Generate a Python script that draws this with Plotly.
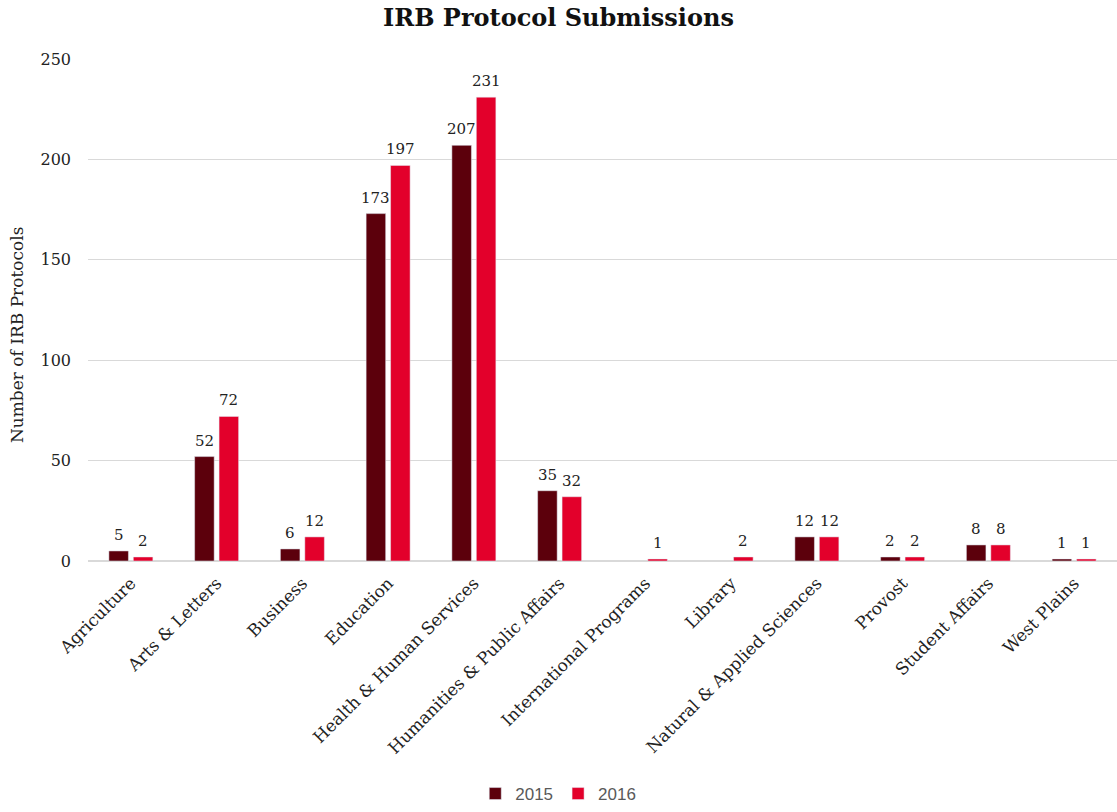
import plotly.graph_objects as go

categories = ["Agriculture", "Arts & Letters", "Business", "Education",
              "Health & Human Services", "Humanities & Public Affairs",
              "International Programs", "Library", "Natural & Applied Sciences",
              "Provost", "Student Affairs", "West Plains"]
values_2015 = [5, 52, 6, 173, 207, 35, None, None, 12, 2, 8, 1]
values_2016 = [2, 72, 12, 197, 231, 32, 1, 2, 12, 2, 8, 1]
y_ticks = [0, 50, 100, 150, 200, 250]

SERIF = "DejaVu Serif"
COL_2015 = "#5C000C"
COL_2016 = "#E3002B"

fig = go.Figure()
fig.add_trace(go.Bar(name="2015", x=categories, y=values_2015, marker_color=COL_2015))
fig.add_trace(go.Bar(name="2016", x=categories, y=values_2016, marker_color=COL_2016))

# data labels as annotations, offset to each bar in the group
for vals, shift in ((values_2015, -12.3), (values_2016, 12.3)):
    for c, v in zip(categories, vals):
        if v is None:
            continue
        fig.add_annotation(x=c, y=v, text=str(v), showarrow=False,
                           xshift=shift, yshift=5, yanchor="bottom",
                           font=dict(family=SERIF, size=15, color="#222222"))

# y axis title placed like the original
fig.add_annotation(text="Number of IRB Protocols", xref="paper", yref="paper",
                   x=-0.069, y=0.452, textangle=-90, showarrow=False,
                   xanchor="center", yanchor="middle",
                   font=dict(family=SERIF, size=17, color="#222222"))

fig.update_layout(
    width=1117, height=812,
    margin=dict(l=88, r=0, t=59, b=249),
    paper_bgcolor="white", plot_bgcolor="white",
    barmode="group", bargap=0.43, bargroupgap=0.2,
    title=dict(text="<b>IRB Protocol Submissions</b>", x=0.5, xanchor="center",
               y=0.978, yanchor="middle",
               font=dict(family=SERIF, size=24, color="#111111")),
    font=dict(family=SERIF, color="#222222"),
    legend=dict(orientation="h", x=0.457, xanchor="center", y=-0.465, yanchor="middle",
                font=dict(family="Liberation Sans", size=17, color="#595959"),
                itemwidth=30, traceorder="normal"),
)
fig.update_xaxes(tickangle=-45, tickfont=dict(family=SERIF, size=17, color="#222222"),
                 showline=False, ticks="", ticklabelstandoff=8)
fig.update_yaxes(range=[0, 250], tickvals=y_ticks, showgrid=True, gridcolor="#D9D9D9",
                 zeroline=True, zerolinecolor="#D9D9D9", zerolinewidth=2,
                 tickfont=dict(family=SERIF, size=16, color="#222222"),
                 ticks="", ticklabelstandoff=16)

fig.write_html("out.html")
